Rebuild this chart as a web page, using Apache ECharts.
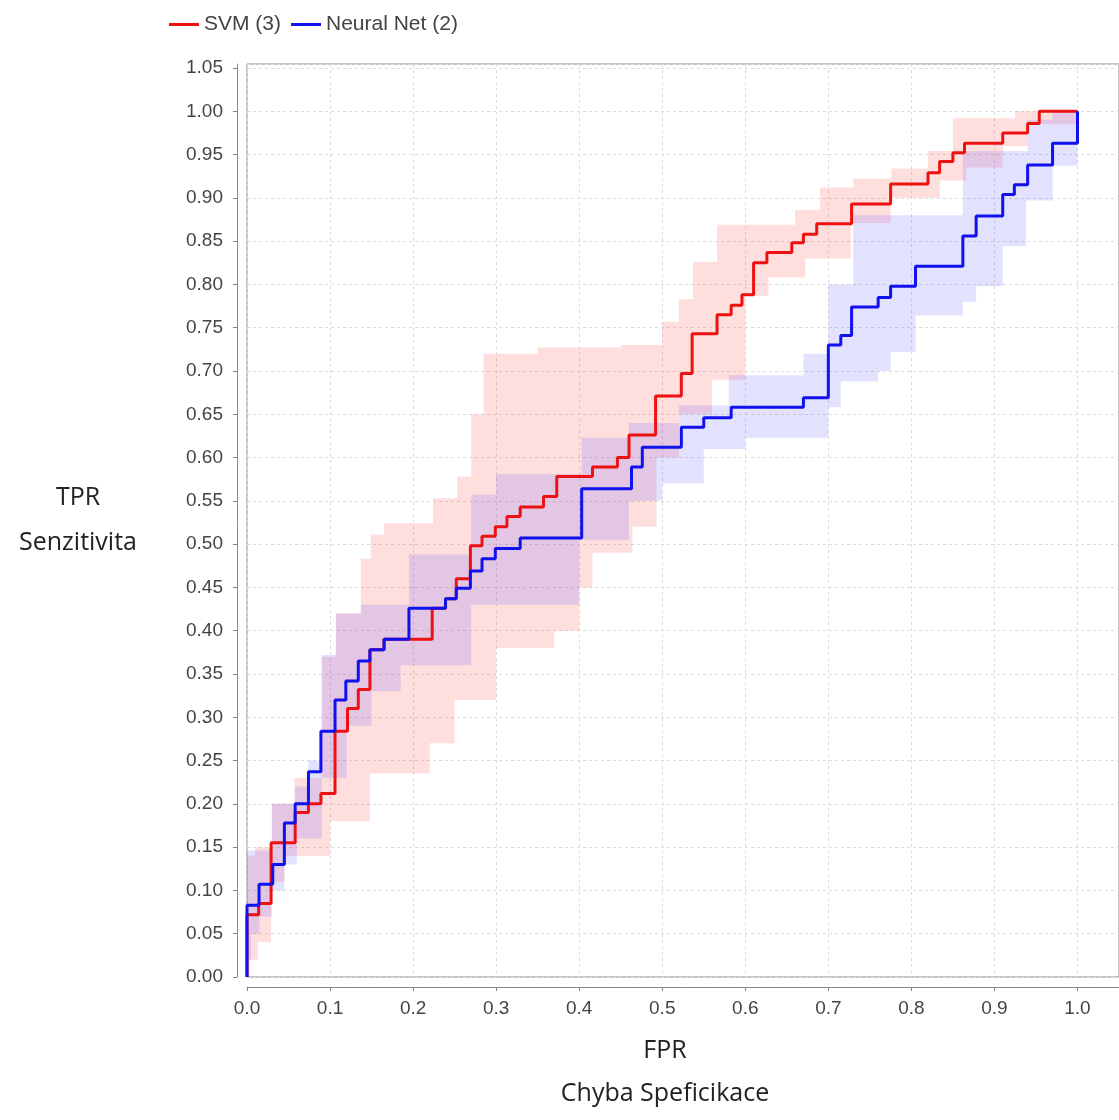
<!DOCTYPE html>
<html>
<head>
<meta charset="utf-8">
<script src="https://cdn.jsdelivr.net/npm/echarts@6/dist/echarts.min.js"></script>
<style>
html,body{margin:0;padding:0;background:#fff;}
#chart{width:1119px;height:1120px;}
</style>
</head>
<body>
<div id="chart"></div>
<script>
// ROC curves: points at the top of each vertical rise (drawn as steps)
const svmFpr = [0, 0, 0.014, 0.029, 0.058, 0.074, 0.089, 0.106, 0.121, 0.134, 0.148, 0.165, 0.223, 0.239, 0.252, 0.269, 0.283, 0.299, 0.313, 0.329, 0.357, 0.373, 0.416, 0.446, 0.46, 0.492, 0.523, 0.536, 0.566, 0.583, 0.596, 0.61, 0.626, 0.656, 0.67, 0.686, 0.728, 0.775, 0.82, 0.834, 0.85, 0.864, 0.91, 0.94, 0.954, 1.0];
const svmTpr = [0, 0.072, 0.085, 0.155, 0.19, 0.20, 0.212, 0.284, 0.31, 0.332, 0.378, 0.39, 0.426, 0.437, 0.46, 0.498, 0.509, 0.52, 0.532, 0.543, 0.555, 0.578, 0.589, 0.60, 0.626, 0.671, 0.697, 0.743, 0.765, 0.776, 0.788, 0.825, 0.837, 0.848, 0.858, 0.87, 0.893, 0.916, 0.929, 0.942, 0.952, 0.963, 0.975, 0.986, 1.0, 1.0];

const nnFpr = [0, 0, 0.0145, 0.031, 0.045, 0.058, 0.074, 0.089, 0.106, 0.119, 0.134, 0.148, 0.165, 0.195, 0.239, 0.252, 0.269, 0.283, 0.299, 0.329, 0.403, 0.463, 0.476, 0.523, 0.55, 0.583, 0.67, 0.70, 0.715, 0.728, 0.76, 0.775, 0.805, 0.862, 0.878, 0.91, 0.924, 0.94, 0.97, 1.0];
const nnTpr = [0, 0.083, 0.107, 0.13, 0.178, 0.20, 0.237, 0.284, 0.32, 0.342, 0.365, 0.378, 0.39, 0.426, 0.437, 0.449, 0.469, 0.483, 0.495, 0.507, 0.564, 0.589, 0.612, 0.635, 0.646, 0.658, 0.669, 0.73, 0.741, 0.774, 0.785, 0.798, 0.821, 0.856, 0.879, 0.904, 0.915, 0.938, 0.963, 1.0];

// Confidence bands: segment start x and constant value on each segment (segments end at next start, last ends at 1.0)
const svmUpperX = [0, 0.01, 0.03, 0.057, 0.09, 0.107, 0.137, 0.149, 0.165, 0.224, 0.253, 0.27, 0.285, 0.35, 0.45, 0.5, 0.52, 0.537, 0.566, 0.66, 0.69, 0.73, 0.776, 0.82, 0.85, 0.925];
const svmUpperY = [0.14, 0.15, 0.2, 0.23, 0.37, 0.42, 0.483, 0.511, 0.524, 0.553, 0.578, 0.65, 0.72, 0.727, 0.73, 0.757, 0.783, 0.826, 0.869, 0.886, 0.912, 0.922, 0.934, 0.954, 0.992, 1.0];
const svmLowerX = [0, 0.003, 0.013, 0.029, 0.045, 0.1, 0.148, 0.22, 0.25, 0.3, 0.37, 0.4, 0.416, 0.464, 0.493, 0.52, 0.56, 0.6, 0.628, 0.672, 0.727, 0.775, 0.834, 0.866, 0.91, 0.94];
const svmLowerY = [0.0, 0.02, 0.04, 0.11, 0.14, 0.18, 0.235, 0.27, 0.32, 0.38, 0.40, 0.45, 0.49, 0.52, 0.6, 0.65, 0.69, 0.787, 0.808, 0.83, 0.871, 0.9, 0.92, 0.935, 0.96, 0.985];

const nnUpperX = [0, 0.03, 0.058, 0.074, 0.09, 0.107, 0.137, 0.195, 0.27, 0.3, 0.403, 0.46, 0.52, 0.58, 0.67, 0.7, 0.73, 0.862, 0.94, 0.97];
const nnUpperY = [0.146, 0.2, 0.22, 0.25, 0.372, 0.42, 0.43, 0.488, 0.557, 0.581, 0.623, 0.64, 0.66, 0.695, 0.72, 0.8, 0.88, 0.954, 0.99, 1.0];
const nnLowerX = [0, 0.005, 0.015, 0.03, 0.045, 0.06, 0.09, 0.12, 0.15, 0.185, 0.27, 0.4, 0.46, 0.5, 0.55, 0.6, 0.7, 0.715, 0.76, 0.775, 0.805, 0.862, 0.878, 0.91, 0.938, 0.97];
const nnLowerY = [0.02, 0.05, 0.07, 0.1, 0.13, 0.16, 0.23, 0.29, 0.33, 0.36, 0.43, 0.505, 0.55, 0.57, 0.61, 0.623, 0.658, 0.688, 0.7, 0.722, 0.764, 0.78, 0.798, 0.844, 0.897, 0.937];

const seriesNames = ['SVM (3)', 'Neural Net (2)'];
const xTitle = 'FPR\nChyba Speficikace';
const yTitle = 'TPR\nSenzitivita';

function zip(a, b) { return a.map((v, i) => [v, b[i]]); }
function stepPts(xs, ys, endX) {
  const pts = [];
  for (let i = 0; i < xs.length; i++) {
    const nx = i + 1 < xs.length ? xs[i + 1] : endX;
    pts.push([xs[i], ys[i]]);
    pts.push([nx, ys[i]]);
  }
  return pts;
}
function bandSeries(ux, uy, lx, ly, color) {
  return {
    type: 'custom',
    coordinateSystem: 'cartesian2d',
    silent: true,
    z: 1,
    data: [[0, 0]],
    renderItem: function (params, api) {
      const up = stepPts(ux, uy, 1.0);
      const lo = stepPts(lx, ly, 1.0).reverse();
      const pts = up.concat(lo).map(p => api.coord(p));
      return { type: 'polygon', shape: { points: pts }, style: { fill: color } };
    }
  };
}

const chart = echarts.init(document.getElementById('chart'));
const tickFont = { fontFamily: 'Liberation Sans', fontSize: 19, color: '#444' };
const titleFont = { fontFamily: 'Open Sans', fontSize: 25, color: '#222' };
chart.setOption({
  animation: false,
  backgroundColor: '#fff',
  legend: {
    data: seriesNames,
    left: 164, top: 9,
    icon: 'rect', itemWidth: 30, itemHeight: 3, itemGap: 10,
    textStyle: { fontFamily: 'Liberation Sans', fontSize: 21, color: '#444' }
  },
  grid: {
    left: 247, top: 64, bottom: 133, right: -3,
    show: true, borderColor: '#8c8c8c', borderWidth: 1, backgroundColor: '#fff'
  },
  xAxis: {
    type: 'value', min: 0, max: 1.05, interval: 0.1, offset: 10,
    name: xTitle, nameLocation: 'middle', nameGap: 42,
    nameTextStyle: Object.assign({ lineHeight: 43, padding: [0, 36, 0, 0] }, titleFont),
    axisLine: { show: true, onZero: false, lineStyle: { color: '#888' } },
    axisTick: { show: true, length: 4, lineStyle: { color: '#888' } },
    axisLabel: Object.assign({ margin: 12, showMaxLabel: false, formatter: v => v.toFixed(1) }, tickFont),
    splitLine: { show: true, lineStyle: { color: '#dcdcdc', type: [3, 3] } }
  },
  yAxis: {
    type: 'value', min: 0, max: 1.0546, interval: 0.05, offset: 10,
    name: yTitle, nameLocation: 'middle', nameRotate: 0, nameGap: 159,
    nameTextStyle: Object.assign({ lineHeight: 45, align: 'center', verticalAlign: 'middle', padding: [0, 0, 26, 0] }, titleFont),
    axisLine: { show: true, onZero: false, lineStyle: { color: '#888' } },
    axisTick: { show: true, length: 4, lineStyle: { color: '#888' } },
    axisLabel: Object.assign({ margin: 14, showMaxLabel: false, formatter: v => v.toFixed(2) }, tickFont),
    splitLine: { show: true, lineStyle: { color: '#dcdcdc', type: [3, 3] } }
  },
  series: [
    bandSeries(svmUpperX, svmUpperY, svmLowerX, svmLowerY, 'rgba(255,60,60,0.17)'),
    bandSeries(nnUpperX, nnUpperY, nnLowerX, nnLowerY, 'rgba(60,60,255,0.15)'),
    {
      name: seriesNames[0], type: 'line', step: 'end', showSymbol: false, z: 3,
      data: zip(svmFpr, svmTpr),
      color: '#ee1111',
      lineStyle: { width: 3, color: '#ee1111' }
    },
    {
      name: seriesNames[1], type: 'line', step: 'end', showSymbol: false, z: 4,
      data: zip(nnFpr, nnTpr),
      color: '#1111ee',
      lineStyle: { width: 3, color: '#1111ee' }
    }
  ]
});
</script>
</body>
</html>
